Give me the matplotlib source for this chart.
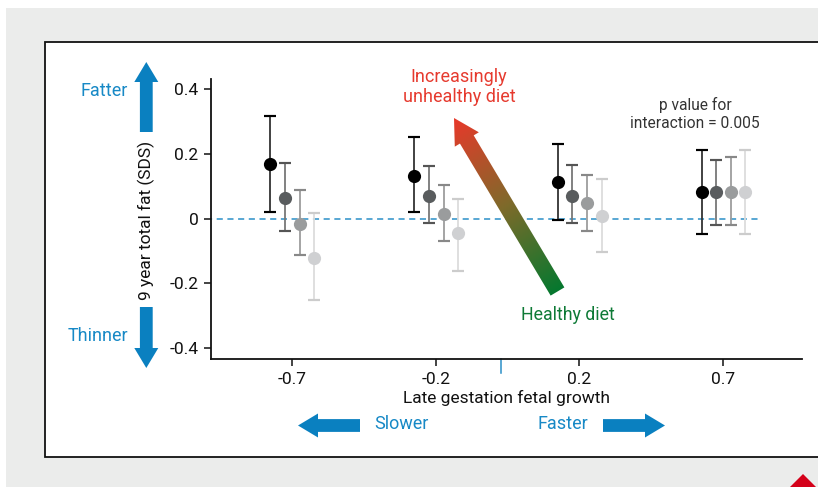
import numpy as np
import matplotlib
matplotlib.use("Agg")
import matplotlib.pyplot as plt
from matplotlib.colors import LinearSegmentedColormap
from matplotlib.patches import Polygon, Rectangle
from matplotlib.transforms import blended_transform_factory

plt.rcParams["font.family"] = ["Roboto", "DejaVu Sans"]

# data
GROUPS = ["-0.7", "-0.2", "0.2", "0.7"]
DIET_LEVELS = ["healthy", "mid 1", "mid 2", "unhealthy"]
# rows: diet level, cols: fetal growth group
MEANS = [
    [0.169, 0.132, 0.114, 0.083],
    [0.064, 0.071, 0.071, 0.083],
    [-0.016, 0.015, 0.047, 0.083],
    [-0.121, -0.046, 0.007, 0.083],
]
UPPER = [
    [0.316, 0.253, 0.229, 0.213],
    [0.171, 0.162, 0.164, 0.182],
    [0.089, 0.103, 0.133, 0.189],
    [0.016, 0.061, 0.123, 0.213],
]
LOWER = [
    [0.019, 0.019, -0.006, -0.048],
    [-0.040, -0.015, -0.015, -0.021],
    [-0.113, -0.068, -0.040, -0.021],
    [-0.252, -0.161, -0.102, -0.048],
]
Y_TICKS = [0.4, 0.2, 0, -0.2, -0.4]
Y_TICK_LABELS = ["0.4", "0.2", "0", "-0.2", "-0.4"]

MARKER_COLORS = ["#000000", "#595c5e", "#9a9c9d", "#cfd0d2"]
LINE_COLORS = ["#333333", "#777777", "#9d9d9d", "#dcdcdc"]
CAP_COLORS = ["#000000", "#555555", "#888888", "#cccccc"]
OFFSETS = [-0.15, -0.05, 0.055, 0.155]

BLUE = "#0a80c0"
TEXT_BLUE = "#1789c6"
W, H = 818, 487

fig = plt.figure(figsize=(W / 100, H / 100), dpi=100)
fig.patch.set_facecolor("white")

# background layer in pixel coordinates
bg = fig.add_axes([0, 0, 1, 1], zorder=0)
bg.set_xlim(0, W)
bg.set_ylim(H, 0)
bg.axis("off")
bg.add_patch(Rectangle((6, 8), W, H, facecolor="#ebeceb", edgecolor="none"))
bg.add_patch(Rectangle((45, 42), W + 20 - 45, 457 - 42, facecolor="white",
                       edgecolor="#111111", linewidth=1.3))
bg.add_patch(Polygon([(790, H), (803, 474), (816, H)], closed=True,
                     facecolor="#d40019", edgecolor="none"))

# main chart
ax = fig.add_axes([211 / W, 1 - 359 / H, (802 - 211) / W, (359 - 79) / H], zorder=1)
ax.set_facecolor("none")

x = np.arange(len(GROUPS))
for i in range(len(DIET_LEVELS)):
    xs = x + OFFSETS[i]
    m = np.array(MEANS[i])
    lo = m - np.array(LOWER[i])
    hi = np.array(UPPER[i]) - m
    ax.errorbar(xs, m, yerr=[lo, hi], fmt="none", ecolor=LINE_COLORS[i],
                elinewidth=1.3, capsize=0, zorder=2)
    ax.errorbar(xs, LOWER[i], yerr=0, fmt="none", ecolor=CAP_COLORS[i],
                capsize=4.5, capthick=1.5, zorder=2)
    ax.errorbar(xs, UPPER[i], yerr=0, fmt="none", ecolor=CAP_COLORS[i],
                capsize=4.5, capthick=1.5, zorder=2)
    ax.plot(xs, m, "o", color=MARKER_COLORS[i], markersize=9.5,
            markeredgewidth=0, zorder=3)

ax.plot([-0.6, 3.27], [0, 0], linestyle=(0, (4, 3)), color="#2b8fc7",
        linewidth=1.1, zorder=1)

ax.set_xlim(-0.564, 3.549)
ax.set_ylim(-0.434, 0.431)
ax.set_xticks(x)
ax.set_xticklabels(GROUPS)
ax.set_yticks(Y_TICKS)
ax.set_yticklabels(Y_TICK_LABELS)
ax.tick_params(axis="both", direction="out", length=5, width=1.1,
               labelsize=12.5, colors="#111111", pad=4)
for side in ["top", "right"]:
    ax.spines[side].set_visible(False)
for side in ["left", "bottom"]:
    ax.spines[side].set_linewidth(1.3)
    ax.spines[side].set_color("#111111")

ax.set_xlabel("Late gestation fetal growth", fontsize=12.5, color="#111111")
ax.set_ylabel("9 year total fat (SDS)", fontsize=12.5, color="#111111")
ax.xaxis.set_label_coords(0.5, -0.112)
ax.yaxis.set_label_coords(-0.095, 0.495)

# blue marker tick at the centre of the x axis
trans = blended_transform_factory(ax.transData, ax.transAxes)
ax.plot([1.455, 1.455], [0, -0.05], color="#2b8fc7", linewidth=1.1,
        transform=trans, clip_on=False)

# foreground layer: arrows and annotations
fg = fig.add_axes([0, 0, 1, 1], zorder=2)
fg.set_xlim(0, W)
fg.set_ylim(H, 0)
fg.axis("off")
fg.set_facecolor("none")


def arrow_poly(tail, tip, half_w, head_w, head_len):
    tail = np.array(tail, float)
    tip = np.array(tip, float)
    d = tip - tail
    u = d / np.hypot(*d)
    n = np.array([-u[1], u[0]])
    base = tip - u * head_len
    return [tail + n * half_w, base + n * half_w, base + n * head_w, tip,
            base - n * head_w, base - n * half_w, tail - n * half_w]


for tail, tip in [((146.3, 132), (146.3, 62)), ((146.3, 307), (146.3, 368)),
                  ((360, 425.5), (298, 425.5)), ((603, 425.5), (665, 425.5))]:
    fg.add_patch(Polygon(arrow_poly(tail, tip, 6.4, 12, 20), closed=True,
                         facecolor=BLUE, edgecolor="none"))

# gradient diet arrow
tail, tip = np.array([557.5, 291.5]), np.array([454.0, 118.0])
poly = Polygon(arrow_poly(tail, tip, 8, 14, 25), closed=True,
               facecolor="none", edgecolor="none")
fg.add_patch(poly)
xx, yy = np.meshgrid(np.linspace(430, 580, 300), np.linspace(105, 305, 400))
d = tip - tail
t = ((xx - tail[0]) * d[0] + (yy - tail[1]) * d[1]) / (d @ d)
cmap = LinearSegmentedColormap.from_list("diet", ["#05782f", "#7f6a2a", "#e8392a"])
img = fg.imshow(np.clip(t, 0, 1), extent=[430, 580, 305, 105], origin="upper",
                cmap=cmap, vmin=0, vmax=1, aspect="auto", interpolation="bilinear")
img.set_clip_path(poly)
fg.set_xlim(0, W)
fg.set_ylim(H, 0)

fg.text(128, 91, "Fatter", color=TEXT_BLUE, fontsize=13, ha="right", va="center")
fg.text(128, 336, "Thinner", color=TEXT_BLUE, fontsize=13, ha="right", va="center")
fg.text(401, 424, "Slower", color=TEXT_BLUE, fontsize=13, ha="center", va="center")
fg.text(563, 424, "Faster", color=TEXT_BLUE, fontsize=13, ha="center", va="center")
fg.text(459, 87, "Increasingly\nunhealthy diet", color="#e63a2e", fontsize=13,
        ha="center", va="center", linespacing=1.2)
fg.text(568, 315, "Healthy diet", color="#0e7a36", fontsize=12.8, ha="center", va="center")
fg.text(695, 114, "p value for\ninteraction = 0.005", color="#333333", fontsize=11.2,
        ha="center", va="center", linespacing=1.3)

fig.savefig("out.png", dpi=100, facecolor=fig.get_facecolor())
